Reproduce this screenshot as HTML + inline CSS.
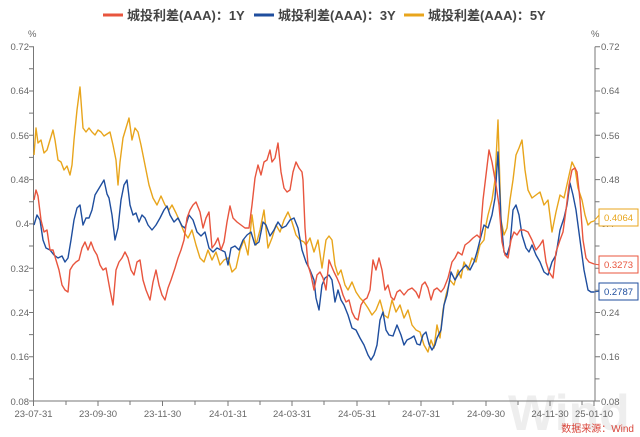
<!DOCTYPE html>
<html><head><meta charset="utf-8"><style>
body{margin:0;background:#fff;}
svg{display:block;font-family:"Liberation Sans","Noto Sans CJK SC",sans-serif;}
</style></head><body>
<svg width="640" height="437" viewBox="0 0 640 437" xmlns="http://www.w3.org/2000/svg">
<rect width="640" height="437" fill="#fff"/>
<!-- legend -->
<g font-size="13" font-weight="bold" fill="#444">
<line x1="103" y1="15" x2="123" y2="15" stroke="#e8553e" stroke-width="3"/>
<text x="127" y="20">城投利差(AAA)：1Y</text>
<line x1="254" y1="15" x2="274" y2="15" stroke="#1f4e9e" stroke-width="3"/>
<text x="278" y="20">城投利差(AAA)：3Y</text>
<line x1="404" y1="15" x2="424" y2="15" stroke="#e8a51c" stroke-width="3"/>
<text x="428" y="20">城投利差(AAA)：5Y</text>
</g>
<!-- watermark -->
<text x="508" y="430" font-size="50" font-weight="bold" fill="#eeeeee">Wind</text>
<!-- axes -->
<g stroke="#777" stroke-width="1" fill="none">
<line x1="33.5" y1="46.7" x2="33.5" y2="401"/>
<line x1="595" y1="46.7" x2="595" y2="401"/>
<line x1="33.5" y1="401" x2="595" y2="401"/>
</g>
<g stroke="#777" stroke-width="1" id="ticks">
<path d="M29 46.7h5M29 68.8h4.5M29 91h5M29 113.1h4.5M29 135.3h5M29 157.4h4.5M29 179.6h5M29 201.7h4.5M29 223.9h5M29 246h4.5M29 268.2h5M29 290.3h4.5M29 312.5h5M29 334.6h4.5M29 356.8h5M29 378.9h4.5M29 401h5"/>
<path d="M595 46.7h5M595 68.8h4.5M595 91h5M595 113.1h4.5M595 135.3h5M595 157.4h4.5M595 179.6h5M595 201.7h4.5M595 223.9h5M595 246h4.5M595 268.2h5M595 290.3h4.5M595 312.5h5M595 334.6h4.5M595 356.8h5M595 378.9h4.5M595 401h5"/>
<path d="M33.5 401v5M66 401v4M98 401v5M130 401v4M162.5 401v5M195 401v4M228 401v5M260 401v4M292 401v5M324 401v4M357 401v5M389 401v4M421 401v5M453 401v4M486 401v5M518 401v4M550 401v5M582 401v4M594 401v5"/>
</g>
<g font-size="9.5" fill="#666">
<text x="28" y="37">%</text><text x="591" y="37">%</text>
<g text-anchor="end">
<text x="29" y="50">0.72</text><text x="29" y="94">0.64</text><text x="29" y="139">0.56</text><text x="29" y="183">0.48</text><text x="29" y="227">0.4</text><text x="29" y="272">0.32</text><text x="29" y="316">0.24</text><text x="29" y="360">0.16</text><text x="29" y="405">0.08</text>
</g>
<g>
<text x="601" y="50">0.72</text><text x="601" y="94">0.64</text><text x="601" y="139">0.56</text><text x="601" y="183">0.48</text><text x="601" y="227">0.4</text><text x="601" y="272">0.32</text><text x="601" y="316">0.24</text><text x="601" y="360">0.16</text><text x="601" y="405">0.08</text>
</g>
<g text-anchor="middle">
<text x="33.5" y="417">23-07-31</text><text x="98" y="417">23-09-30</text><text x="162.5" y="417">23-11-30</text><text x="228" y="417">24-01-31</text><text x="292" y="417">24-03-31</text><text x="357" y="417">24-05-31</text><text x="421" y="417">24-07-31</text><text x="486" y="417">24-09-30</text><text x="550" y="417">24-11-30</text><text x="594" y="417">25-01-10</text>
</g>
</g>
<text x="634" y="432" font-size="10" fill="#d9453a" text-anchor="end">数据来源：Wind</text>
<!-- series -->
<g fill="none" stroke-width="1.4" stroke-linejoin="round">
<polyline stroke="#e8a51c" points="34,155 36,128 38,143 41,140 44,153 47,150 50,140 53,130 55,140 58,160 61,162 64,170 67,166 70,175 72,165 74,140 77,110 80,87 83,128 86,132 89,128 92,132 95,135 98,130 101,132 104,136 107,134 110,132 113,145 116,160 118,185 120,162 123,138 126,128 129,118 132,140 135,128 138,132 141,145 145,165 149,185 153,198 157,205 161,196 165,205 169,210 172,205 176,213 180,222 184,232 188,238 192,230 196,245 200,258 204,262 208,250 212,260 216,252 220,265 224,260 228,258 232,272 236,268 240,250 244,240 248,255 252,215 256,245 260,230 264,210 268,248 272,238 276,225 280,232 284,220 288,212 292,222 296,235 300,240 304,242 306,245 310,238 314,252 318,240 322,268 326,240 329,236 332,240 335,265 338,275 341,270 345,285 348,290 352,282 356,292 360,298 364,302 368,308 372,315 376,310 380,300 384,315 388,318 392,300 396,312 400,305 404,318 408,310 412,325 416,330 420,332 424,345 428,352 431,340 434,348 437,325 440,338 443,310 446,295 450,280 454,285 458,270 461,278 464,262 468,270 472,258 476,262 480,245 484,240 486,225 488,215 492,200 495,180 498,120 501,220 504,235 507,228 510,200 513,180 516,155 519,148 522,140 525,170 528,190 532,198 536,195 540,192 544,205 548,200 552,232 556,212 560,195 564,198 568,180 572,162 575,168 578,188 582,200 585,215 588,225 591,222 594,221"/>
<polyline stroke="#1f4e9e" points="34,225 37,215 40,220 43,240 46,248 50,250 54,255 58,258 62,256 65,262 68,258 71,240 74,220 77,208 80,205 83,225 86,218 89,218 92,210 95,195 98,190 101,185 104,180 107,194 109,198 112,215 115,240 118,228 121,200 124,185 127,180 130,205 133,215 136,213 139,222 142,215 145,218 148,225 152,230 156,225 160,218 164,210 167,206 170,215 174,222 178,218 182,226 185,228 189,215 193,220 197,232 201,236 205,232 209,248 213,252 217,248 221,250 225,252 228,265 231,248 235,246 239,250 243,240 247,235 251,232 255,245 259,242 263,222 266,225 270,236 274,230 278,222 282,228 286,226 290,220 294,218 298,228 302,250 306,262 310,270 314,280 316,298 319,310 322,285 325,278 329,275 332,280 335,302 338,290 341,300 344,305 348,315 352,328 356,330 360,338 364,345 368,355 371,360 374,355 377,345 380,320 383,312 386,330 389,335 393,336 397,325 401,335 404,345 407,340 411,338 414,336 417,344 420,345 423,335 426,332 429,344 432,350 435,345 437,338 441,330 444,305 447,295 451,272 455,280 459,273 463,268 466,265 470,270 474,262 477,252 480,240 484,225 488,228 492,215 495,198 498,152 501,220 504,252 507,255 510,245 513,210 516,205 519,215 522,235 526,248 529,252 532,245 536,255 540,262 544,272 548,275 552,262 556,255 560,230 564,218 567,205 570,183 573,195 576,210 580,240 584,270 588,290 591,292 594,292"/>
<polyline stroke="#e8553e" points="34,200 36,190 38,196 41,220 44,232 47,230 50,250 53,250 56,260 59,270 62,285 65,290 68,292 70,270 73,265 76,262 79,260 82,248 85,242 88,250 91,242 94,250 97,255 100,265 103,270 106,268 110,290 113,305 116,270 119,262 122,258 125,252 128,258 131,270 134,275 137,262 140,260 143,280 146,290 150,300 153,282 156,270 159,285 162,295 165,300 168,288 171,280 175,268 178,258 181,250 184,240 187,218 190,210 193,205 196,202 200,212 203,228 206,218 209,212 212,248 215,244 218,238 221,250 224,242 227,222 230,206 233,218 237,222 241,225 245,228 249,228 252,205 255,178 258,165 261,175 264,162 267,160 270,150 272,162 275,158 278,143 281,172 284,188 287,192 290,190 293,172 296,162 299,168 302,172 303,180 305,228 308,265 311,275 314,290 317,275 320,272 323,278 326,290 329,260 331,265 334,272 337,278 340,285 343,295 346,302 349,300 352,312 355,318 358,320 361,305 364,300 367,298 370,290 373,260 376,270 379,258 382,270 385,290 388,285 391,297 394,300 397,292 400,290 404,295 408,290 412,288 416,292 419,298 422,285 425,282 428,288 431,300 434,290 437,288 441,292 444,288 448,278 452,262 455,258 458,252 462,255 465,245 469,242 473,238 477,235 480,238 483,200 486,175 489,150 492,162 496,185 499,205 502,242 505,255 508,258 511,240 514,232 517,235 520,230 524,230 528,232 532,240 536,250 540,245 543,240 546,262 549,272 553,278 556,252 560,240 563,232 566,210 569,185 572,170 575,168 577,172 580,200 583,240 586,258 589,262 594,264"/>
</g>
<!-- end labels -->
<g font-size="9.5">
<path d="M594 221 L600 214" stroke="#e8a51c" fill="none"/>
<rect x="599" y="209" width="39" height="17" fill="#fff" stroke="#e8a51c"/>
<text x="618.5" y="221" text-anchor="middle" fill="#e8a51c">0.4064</text>
<path d="M594 264 L600 265" stroke="#e8553e" fill="none"/>
<rect x="599" y="256" width="39" height="17" fill="#fff" stroke="#e8553e"/>
<text x="618.5" y="268" text-anchor="middle" fill="#e8553e">0.3273</text>
<path d="M594 292 L600 291" stroke="#1f4e9e" fill="none"/>
<rect x="599" y="283" width="39" height="17" fill="#fff" stroke="#1f4e9e"/>
<text x="618.5" y="295" text-anchor="middle" fill="#1f4e9e">0.2787</text>
</g>
</svg>
</body></html>
